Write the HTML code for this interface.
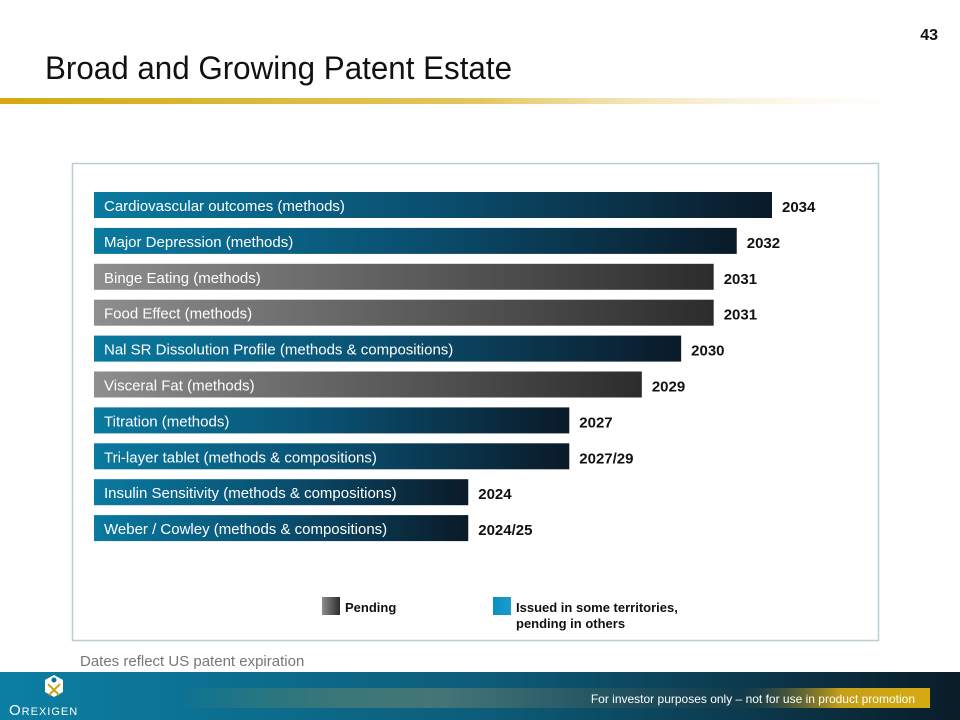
<!DOCTYPE html>
<html><head><meta charset="utf-8"><style>
html,body{margin:0;padding:0;background:#fff;width:960px;height:720px;overflow:hidden}
svg{display:block;font-family:"Liberation Sans",sans-serif}
</style></head><body>
<svg width="960" height="720" viewBox="0 0 960 720">
<defs>
<linearGradient id="gTeal" x1="0" x2="1" y1="0" y2="0"><stop offset="0" stop-color="#0a7aa0"/><stop offset="0.5" stop-color="#0a4f70"/><stop offset="1" stop-color="#0a1a28"/></linearGradient>
<linearGradient id="gGray" x1="0" x2="1" y1="0" y2="0"><stop offset="0" stop-color="#8e8e8e"/><stop offset="1" stop-color="#2c2c2c"/></linearGradient>
<linearGradient id="gGold" x1="0" x2="1"><stop offset="0" stop-color="#d4a90e"/><stop offset="0.5" stop-color="#e4c660"/><stop offset="1" stop-color="#fff" stop-opacity="0"/></linearGradient>
<linearGradient id="gFoot" x1="0" x2="1"><stop offset="0" stop-color="#0b7fa3"/><stop offset="0.5" stop-color="#0d5d7a"/><stop offset="1" stop-color="#0a1c28"/></linearGradient>
<linearGradient id="gFootGold" x1="0" x2="1"><stop offset="0" stop-color="#d8b43a" stop-opacity="0"/><stop offset="0.35" stop-color="#7a8a70" stop-opacity="0.5"/><stop offset="0.75" stop-color="#1d3f4d" stop-opacity="0.3"/><stop offset="0.88" stop-color="#c59f17"/><stop offset="1" stop-color="#d6ab12"/></linearGradient>
<linearGradient id="gLegTeal" x1="0" x2="1"><stop offset="0" stop-color="#0b8fbf"/><stop offset="1" stop-color="#1a9ccc"/></linearGradient>
</defs>
<text x="938" y="40" text-anchor="end" font-size="16" font-weight="bold" fill="#111">43</text>
<text x="45" y="79" font-size="32" textLength="467" lengthAdjust="spacingAndGlyphs" fill="#111">Broad and Growing Patent Estate</text>
<rect x="0" y="98" width="960" height="6" fill="url(#gGold)"/>
<rect x="72.5" y="163.5" width="806" height="477" fill="none" stroke="#b9cdd2" stroke-width="1.5"/>
<g id="bars"></g>
<g>
<rect x="322" y="597" width="18" height="18" fill="url(#gGray)"/>
<text x="345" y="612" font-size="13" font-weight="bold" fill="#111">Pending</text>
<rect x="493" y="597" width="18" height="18" fill="url(#gLegTeal)"/>
<text x="516" y="612" font-size="13" font-weight="bold" fill="#111">Issued in some territories,</text>
<text x="516" y="628" font-size="13" font-weight="bold" fill="#111">pending in others</text>
</g>
<text x="80" y="666" font-size="15" fill="#777">Dates reflect US patent expiration</text>
<rect x="0" y="672" width="960" height="48" fill="url(#gFoot)"/>
<rect x="180" y="688" width="750" height="20" fill="url(#gFootGold)"/>
<text x="915" y="703" text-anchor="end" font-size="12" fill="#fff">For investor purposes only – not for use in product promotion</text>
<g>
<polygon points="54,675 63,680 63,692 54,697 45,692 45,680" fill="#fff"/>
<circle cx="54" cy="680" r="2.5" fill="#0b6e92"/>
<path d="M48,684 L54,690 L60,684 M54,690 L49,695 M54,690 L59,695" stroke="#c9a514" stroke-width="2" fill="none"/>
<text x="9" y="715" font-size="15" fill="#fff" letter-spacing="1">O<tspan font-size="11">REXIGEN</tspan></text>
</g>
</svg>
<script>
const categories = ["Cardiovascular outcomes (methods)","Major Depression (methods)","Binge Eating (methods)","Food Effect (methods)","Nal SR Dissolution Profile (methods & compositions)","Visceral Fat (methods)","Titration (methods)","Tri-layer tablet (methods & compositions)","Insulin Sensitivity (methods & compositions)","Weber / Cowley (methods & compositions)"];
const expiryLabels = ["2034","2032","2031","2031","2030","2029","2027","2027/29","2024","2024/25"];
const barExtent = [100, 94.8, 91.4, 91.4, 86.6, 80.8, 70.1, 70.1, 55.2, 55.2];
const status = ["issued","issued","pending","pending","issued","pending","issued","issued","issued","issued"];

const X0 = 94, XW = 678;
function xScale(v){ return X0 + v/100*XW; }
function yScale(i){ return 192 + i*35.9; }
const NS = "http://www.w3.org/2000/svg";
const g = document.getElementById("bars");
categories.forEach((c,i)=>{
  const y = yScale(i), x1 = xScale(barExtent[i]);
  const r = document.createElementNS(NS,"rect");
  r.setAttribute("x",X0); r.setAttribute("y",y); r.setAttribute("width",x1-X0); r.setAttribute("height",26);
  r.setAttribute("fill", status[i]==="issued" ? "url(#gTeal)" : "url(#gGray)");
  
  
  g.appendChild(r);
  const t = document.createElementNS(NS,"text");
  t.setAttribute("x", X0+10); t.setAttribute("y", y+19);
  t.setAttribute("font-size","15"); t.setAttribute("fill","#fff");
  t.textContent = c;
  
  
  g.appendChild(t);
  const v = document.createElementNS(NS,"text");
  v.setAttribute("x", x1+10); v.setAttribute("y", y+20);
  v.setAttribute("font-size","15"); v.setAttribute("font-weight","bold"); v.setAttribute("fill","#111");
  v.textContent = expiryLabels[i];
  
  
  g.appendChild(v);
});
</script>
</body></html>
